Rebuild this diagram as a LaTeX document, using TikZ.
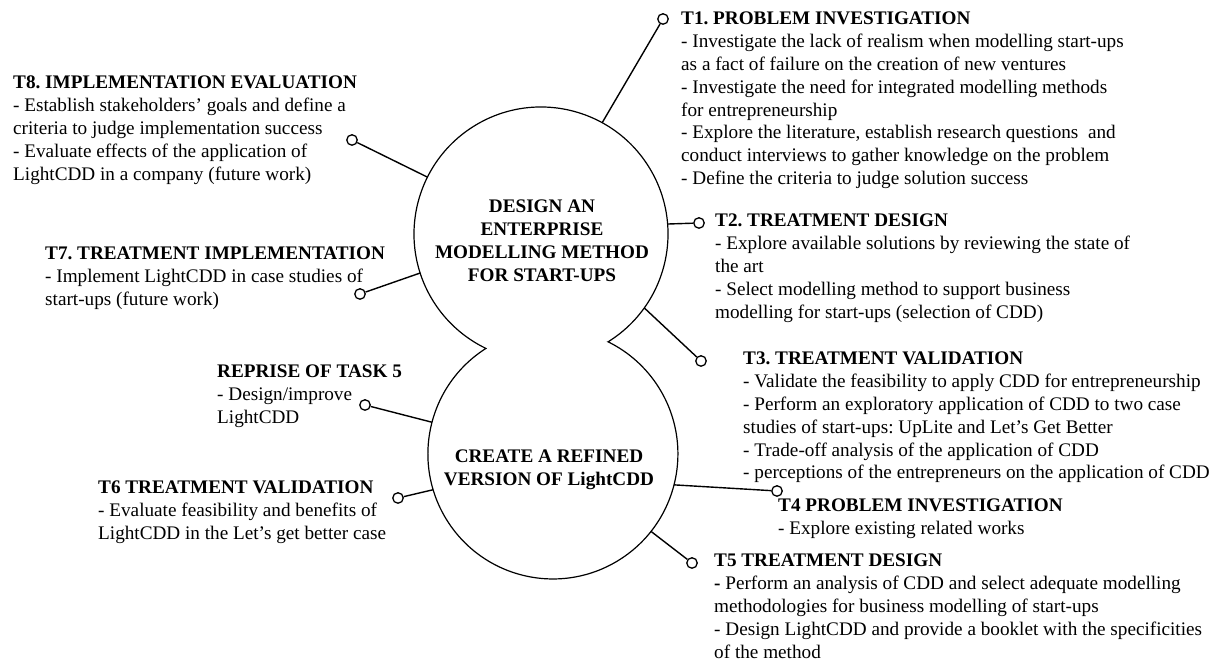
\documentclass[tikz,border=0pt]{standalone}
\usepackage{fontspec}
\setmainfont{Liberation Serif}
\usetikzlibrary{calc}
\frenchspacing
\newcommand\blockl[1]{\begin{tabular}[t]{@{}l@{}}#1\end{tabular}}
\newcommand\blockc[1]{\begin{tabular}[t]{@{}c@{}}#1\end{tabular}}
\begin{document}
\frenchspacing
\begin{tikzpicture}[x=1pt,y=1pt,
  txt/.style={anchor=base west, inner sep=0pt, font=\fontsize{19.2}{22.8}\selectfont\frenchspacing},
  ctr/.style={anchor=base, inner sep=0pt, font=\fontsize{19.2}{23}\selectfont\bfseries\frenchspacing},
  dot/.style={circle, draw, fill=white, inner sep=0pt, minimum size=10.5pt, line width=1.3pt},
  conn/.style={line width=1.4pt},
  blob/.style={line width=1.2pt}]
\useasboundingbox (0,0) rectangle (1219,663);

% circle centres
\coordinate (cu) at (541,429);
\coordinate (cl) at (553,209);

% figure-eight outline
\draw[blob] ($(cu)+(-58.06:127pt)$) arc[start angle=-58.06, end angle=244.3, radius=127pt]
  arc[start angle=122.4, end angle=423.8, radius=125pt] -- cycle;

% centre labels
\node[ctr] (mainA) at (542,450) {\blockc{DESIGN AN\\ENTERPRISE\\MODELLING METHOD\\FOR START-UPS}};
\node[ctr] (mainB) at (549,200) {\blockc{CREATE A REFINED\\VERSION OF LightCDD}};

% connector start points on the outline
\coordinate (e1) at ($(cu)+(61.2:127pt)$);
\coordinate (e2) at ($(cu)+(4.5:127pt)$);
\coordinate (e3) at ($(cu)+(-35.6:127pt)$);
\coordinate (e8) at ($(cu)+(153.4:127pt)$);
\coordinate (e7) at ($(cu)+(197.9:127pt)$);
\coordinate (er) at ($(cl)+(165.3:125pt)$);
\coordinate (e6) at ($(cl)+(196.6:125pt)$);
\coordinate (e4) at ($(cl)+(-14.3:125pt)$);
\coordinate (e5) at ($(cl)+(-38.3:125pt)$);

% connector end dots
\node[dot] (d1) at (663,644) {};
\node[dot] (d2) at (699,440) {};
\node[dot] (d3) at (701,302) {};
\node[dot] (d4) at (777,172) {};
\node[dot] (d5) at (692,100) {};
\node[dot] (d6) at (398,165) {};
\node[dot] (d7) at (360,369) {};
\node[dot] (d8) at (352,523) {};
\node[dot] (dr) at (365,258) {};

\foreach \a/\b in {e1/d1,e2/d2,e3/d3,e4/d4,e5/d5,e6/d6,e7/d7,e8/d8,er/dr}
  \draw[conn] (\a) -- (\b);

% text blocks
\node[txt] (t1) at (681,638) {\blockl{\textbf{T1. PROBLEM INVESTIGATION}\\
- Investigate the lack of realism when modelling start-ups\\
as a fact of failure on the creation of new ventures\\
- Investigate the need for integrated modelling methods\\
for entrepreneurship\\
- Explore the literature, establish research questions\ \ and\\
conduct interviews to gather knowledge on the problem\\
- Define the criteria to judge solution success}};

\node[txt] (t2) at (715,436) {\blockl{\textbf{T2. TREATMENT DESIGN}\\
- Explore available solutions by reviewing the state of\\
the art\\
- Select modelling method to support business\\
modelling for start-ups (selection of CDD)}};

\node[txt] (t3) at (743,298) {\blockl{\textbf{T3. TREATMENT VALIDATION}\\
- Validate the feasibility to apply CDD for entrepreneurship\\
- Perform an exploratory application of CDD to two case\\
studies of start-ups: UpLite and Let’s Get Better\\
- Trade-off analysis of the application of CDD\\
- perceptions of the entrepreneurs on the application of CDD}};

\node[txt] (t4) at (778,151) {\blockl{\textbf{T4 PROBLEM INVESTIGATION}\\
- Explore existing related works}};

\node[txt] (t5) at (714,96) {\blockl{\textbf{T5 TREATMENT DESIGN}\\
\textbf{-} Perform an analysis of CDD and select adequate modelling\\
methodologies for business modelling of start-ups\\
- Design LightCDD and provide a booklet with the specificities\\
of the method}};

\node[txt] (t6) at (98,169) {\blockl{\textbf{T6 TREATMENT VALIDATION}\\
- Evaluate feasibility and benefits of\\
LightCDD in the Let’s get better case}};

\node[txt] (t7) at (45,403) {\blockl{\textbf{T7. TREATMENT IMPLEMENTATION}\\
- Implement LightCDD in case studies of\\
start-ups (future work)}};

\node[txt] (t8) at (13,574) {\blockl{\textbf{T8. IMPLEMENTATION EVALUATION}\\
- Establish stakeholders’ goals and define a\\
criteria to judge implementation success\\
- Evaluate effects of the application of\\
LightCDD in a company (future work)}};

\node[txt] (tr) at (217,285) {\blockl{\textbf{REPRISE OF TASK 5}\\
- Design/improve\\
LightCDD}};
\end{tikzpicture}
\end{document}
